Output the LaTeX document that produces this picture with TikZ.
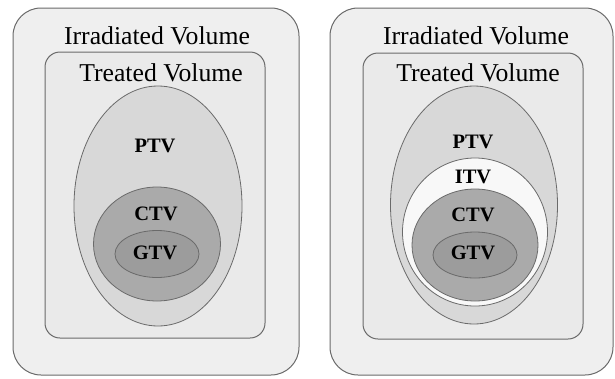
\documentclass[tikz,border=0pt]{standalone}
\usepackage{fontspec}
\setmainfont{Liberation Serif}
\usetikzlibrary{shapes.geometric}

\definecolor{outerfill}{HTML}{EFEFEF}
\definecolor{innerfill}{HTML}{EAEAEA}
\definecolor{ptvfill}{HTML}{D8D8D8}
\definecolor{itvfill}{HTML}{F8F8F8}
\definecolor{ctvfill}{HTML}{AAAAAA}
\definecolor{gtvfill}{HTML}{9C9C9C}
\definecolor{edgegray}{HTML}{6A6A6A}

\begin{document}
\begin{tikzpicture}[x=1pt,y=-1pt,
    volbox/.style={draw=edgegray,line width=1pt,rectangle,inner sep=0pt},
    volring/.style={draw=edgegray,line width=0.8pt,ellipse,inner sep=0pt},
    boxlabel/.style={font=\fontsize{25.7}{28}\selectfont},
    ringlabel/.style={font=\fontsize{20.5}{23}\selectfont\bfseries}]
    \useasboundingbox (0,0) rectangle (615,378);

    % left panel
    \node (irrL) [volbox,fill=outerfill,rounded corners=28pt,minimum width=286pt,minimum height=367pt] at (156,191.5) {};
    \node (treL) [volbox,fill=innerfill,rounded corners=15pt,minimum width=220pt,minimum height=286pt] at (155,195) {};
    \node (ptvL) [volring,fill=ptvfill,minimum width=168pt,minimum height=240pt] at (158,206) {};
    \node (ctvL) [volring,fill=ctvfill,minimum width=127pt,minimum height=114pt] at (157,244) {};
    \node (gtvL) [volring,fill=gtvfill,minimum width=84pt,minimum height=47pt] at (157,254) {};

    \node (irrtxtL) [boxlabel] at (157,36) {Irradiated Volume};
    \node (tretxtL) [boxlabel] at (161,73) {Treated Volume};
    \node (ptvtxtL) [ringlabel] at (155,146) {PTV};
    \node (ctvtxtL) [ringlabel] at (156,214) {CTV};
    \node (gtvtxtL) [ringlabel] at (155,253) {GTV};

    % right panel
    \node (irrR) [volbox,fill=outerfill,rounded corners=28pt,minimum width=283pt,minimum height=367pt] at (471.5,191.5) {};
    \node (treR) [volbox,fill=innerfill,rounded corners=15pt,minimum width=220pt,minimum height=286pt] at (473,196) {};
    \node (ptvR) [volring,fill=ptvfill,minimum width=167pt,minimum height=238pt] at (474,205) {};
    \node (itvR) [volring,fill=itvfill,minimum width=145pt,minimum height=148pt] at (475,232) {};
    \node (ctvR) [volring,fill=ctvfill,minimum width=126pt,minimum height=112pt] at (475,245) {};
    \node (gtvR) [volring,fill=gtvfill,minimum width=84pt,minimum height=46pt] at (475,255) {};

    \node (irrtxtR) [boxlabel] at (476,36) {Irradiated Volume};
    \node (tretxtR) [boxlabel] at (478,73) {Treated Volume};
    \node (ptvtxtR) [ringlabel] at (473,142) {PTV};
    \node (itvtxtR) [ringlabel] at (473,177) {ITV};
    \node (ctvtxtR) [ringlabel] at (473,215) {CTV};
    \node (gtvtxtR) [ringlabel] at (473,253) {GTV};
\end{tikzpicture}
\end{document}
